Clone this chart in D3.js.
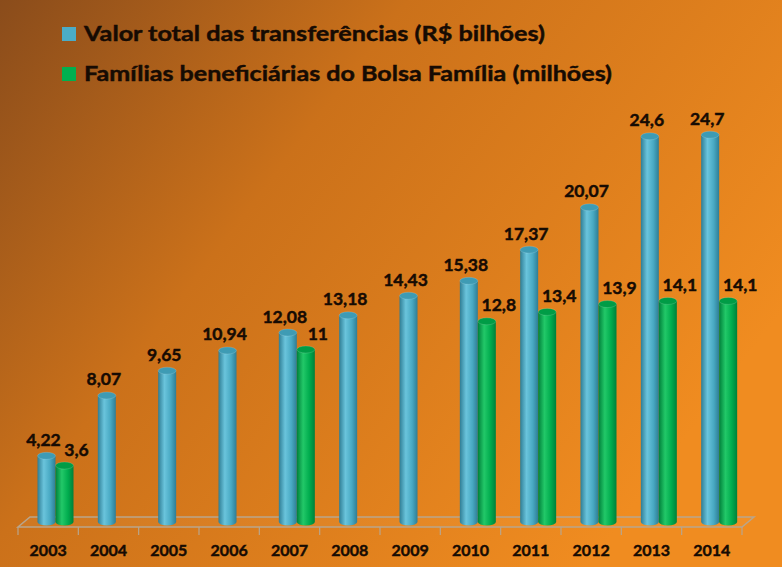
<!DOCTYPE html>
<html>
<head>
<meta charset="utf-8">
<script src="https://cdn.jsdelivr.net/npm/d3@7"></script>
<style>
body { margin: 0; overflow: hidden; }
text { font-family: Lato, "Open Sans", sans-serif; font-weight: bold; fill: #160b03; stroke: #160b03; stroke-width: 0.45; }
</style>
</head>
<body>
<div id="vis"></div>
<script>
var years = ["2003", "2004", "2005", "2006", "2007", "2008", "2009", "2010", "2011", "2012", "2013", "2014"];
var valorTotal = [4.22, 8.07, 9.65, 10.94, 12.08, 13.18, 14.43, 15.38, 17.37, 20.07, 24.6, 24.7];
var familias = [3.6, null, null, null, 11, null, null, 12.8, 13.4, 13.9, 14.1, 14.1];
var seriesNames = ["valor", "familias"];
var legendLabels = ["Valor total das transferências (R$ bilhões)", "Famílias beneficiárias do Bolsa Família (milhões)"];

var width = 782,
    height = 567;

var svg = d3.select('#vis').append('svg')
    .attr("width", width)
    .attr("height", height);

var defs = svg.append("defs");

// background
var bg = defs.append("linearGradient").attr("id", "bg")
    .attr("x1", 0).attr("y1", 0).attr("x2", 1).attr("y2", 0.55);
bg.append("stop").attr("offset", "0%").attr("stop-color", "#8a4c1b");
bg.append("stop").attr("offset", "40%").attr("stop-color", "#cb711a");
bg.append("stop").attr("offset", "100%").attr("stop-color", "#f08c20");

svg.append("rect").attr("width", width).attr("height", height).attr("fill", "url(#bg)");

// cylinder shading
function shade(id, dark, mid, light) {
    var g = defs.append("linearGradient").attr("id", id)
        .attr("x1", 0).attr("y1", 0).attr("x2", 1).attr("y2", 0);
    g.append("stop").attr("offset", "0%").attr("stop-color", dark);
    g.append("stop").attr("offset", "35%").attr("stop-color", light);
    g.append("stop").attr("offset", "70%").attr("stop-color", mid);
    g.append("stop").attr("offset", "100%").attr("stop-color", dark);
}
shade("cylBlue", "#2f7d94", "#48a9c3", "#6ac4dc");
shade("cylGreen", "#00803a", "#00ac4e", "#22c868");

var colors = {
    valor: { body: "url(#cylBlue)", top: "#3e9bb4", legend: "#4bacc6" },
    familias: { body: "url(#cylGreen)", top: "#009c46", legend: "#00b050" }
};

var x = d3.scaleBand().domain(years).range([18, 742]);
var xs = d3.scaleBand().domain(seriesNames).range([19.5, 55.5]);
var y = d3.scaleLinear().domain([0, 25]).range([522, 130]);

// floor (3D perspective offset)
var depthX = 12, depthY = -10, floorFront = 527;
var x0 = x.range()[0], x1 = x.range()[1];
svg.append("polygon")
    .attr("points", [[x0, floorFront], [x1, floorFront], [x1 + depthX, floorFront + depthY], [x0 + depthX, floorFront + depthY]].join(" "))
    .attr("fill", "rgba(255,220,170,0.06)")
    .attr("stroke", "#b9a58c")
    .attr("stroke-width", 1.5);

svg.selectAll("line.tick")
    .data(years.concat(["end"]))
    .enter().append("line")
    .attr("class", "tick")
    .attr("x1", function(d, i) { return x0 + i * x.bandwidth(); })
    .attr("x2", function(d, i) { return x0 + i * x.bandwidth(); })
    .attr("y1", floorFront)
    .attr("y2", floorFront + 8)
    .attr("stroke", "#b9a58c")
    .attr("stroke-width", 1.2);

// bars
var bars = [];
years.forEach(function(yr, i) {
    bars.push({ year: yr, key: "valor", value: valorTotal[i] });
    if (familias[i] != null) bars.push({ year: yr, key: "familias", value: familias[i] });
});

var bw = xs.bandwidth(), ry = 3.5;

var cyl = svg.selectAll("g.cyl")
    .data(bars)
    .enter().append("g")
    .attr("class", "cyl");

cyl.append("path")
    .attr("d", function(d) {
        var bx = x(d.year) + xs(d.key), top = y(d.value), bot = y(0);
        return "M" + bx + "," + top + "L" + bx + "," + bot +
            "A" + (bw / 2) + "," + ry + " 0 0 0 " + (bx + bw) + "," + bot +
            "L" + (bx + bw) + "," + top + "Z";
    })
    .attr("fill", function(d) { return colors[d.key].body; });

cyl.append("ellipse")
    .attr("cx", function(d) { return x(d.year) + xs(d.key) + bw / 2; })
    .attr("cy", function(d) { return y(d.value); })
    .attr("rx", bw / 2)
    .attr("ry", ry)
    .attr("fill", function(d) { return colors[d.key].top; })
    .attr("stroke", "rgba(255,255,255,0.25)")
    .attr("stroke-width", 0.6);

// value labels
svg.selectAll("text.val")
    .data(bars)
    .enter().append("text")
    .attr("class", "val")
    .attr("text-anchor", "middle")
    .attr("font-size", 17.5)
    .attr("x", function(d) { return x(d.year) + xs(d.key) + bw / 2 + (d.key == "valor" ? -3 : 12); })
    .attr("y", function(d) { return y(d.value) - 10; })
    .text(function(d) { return String(d.value).replace(".", ","); });

// year labels
svg.selectAll("text.year")
    .data(years)
    .enter().append("text")
    .attr("class", "year")
    .attr("text-anchor", "middle")
    .attr("font-size", 16)
    .attr("x", function(d) { return x(d) + x.bandwidth() / 2; })
    .attr("y", 556)
    .text(function(d) { return d; });

// legend
var legend = svg.selectAll("g.legend")
    .data(seriesNames)
    .enter().append("g")
    .attr("class", "legend")
    .attr("transform", function(d, i) { return "translate(62," + (27 + i * 40) + ")"; });

legend.append("rect")
    .attr("width", 14).attr("height", 14)
    .attr("fill", function(d) { return colors[d].legend; });

legend.append("text")
    .attr("x", 22)
    .attr("y", 14)
    .attr("font-size", 21.5)
    .attr("textLength", function(d, i) { return i == 0 ? 461 : 528; })
    .attr("lengthAdjust", "spacingAndGlyphs")
    .text(function(d, i) { return legendLabels[i]; });
</script>
</body>
</html>
